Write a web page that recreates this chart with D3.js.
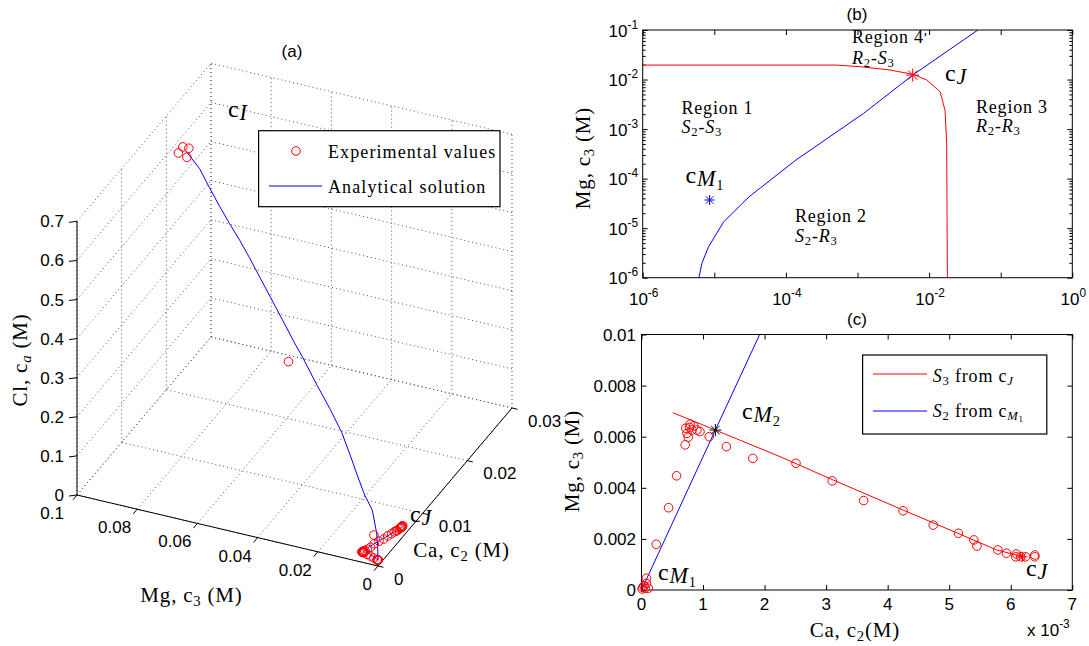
<!DOCTYPE html>
<html>
<head>
<meta charset="utf-8">
<script src="https://cdnjs.cloudflare.com/ajax/libs/d3/7.8.5/d3.min.js"></script>
<style>
body { margin: 0; background: #fff; }
svg text { font-family: "Liberation Sans", Arial, sans-serif; fill: #000; }
svg text.serif { font-family: "Liberation Serif", "Times New Roman", serif; letter-spacing: 0.8px; }
.grid3d line { stroke: #555; stroke-width: 1; stroke-dasharray: 1,3; }
.tk line { stroke: #000; stroke-width: 1; }
.tk path { display: none; }
</style>
</head>
<body>
<svg id="chart" width="1089" height="646"></svg>
<script>
// ---------- data ----------
// panel (a): analytical path in (Mg, Ca, Cl), M
var a_curve_mg = [0.0907, 0.0844, 0.0796, 0.0749, 0.0701, 0.0654, 0.0607, 0.0569, 0.0507, 0.0450, 0.0389, 0.0358, 0.0294, 0.0227, 0.0171, 0.0133, 0.0095, 0.0062, 0.0028, 0.0006, 0.0001, 0.0000,
	0.0063, 0.00626, 0.00522, 0.00431, 0.00313, 0.00222, 0.00157, 0.0013];
var a_curve_ca = [0.0181, 0.0169, 0.0159, 0.0150, 0.0140, 0.0131, 0.0121, 0.0114, 0.0101, 0.0090, 0.0078, 0.0072, 0.0059, 0.0045, 0.0034, 0.0027, 0.0019, 0.0012, 0.0006, 0.0001, 0.0000, 0.0000,
	0.0012, 0.0012, 0.00225, 0.00311, 0.00425, 0.00514, 0.00577, 0.0062];
var a_curve_cl = [0.653, 0.636, 0.609, 0.582, 0.560, 0.538, 0.516, 0.492, 0.459, 0.425, 0.389, 0.373, 0.335, 0.301, 0.265, 0.224, 0.185, 0.154, 0.130, 0.082, 0.049, 0.015,
	0.014, 0.014, 0.014, 0.014, 0.014, 0.014, 0.014, 0.014];

// panel (a): experimental values
var a_exp_mg = [0.0923, 0.0894, 0.0942, 0.0902, 0.0422, 0.0015,
	0.00649, 0.00633, 0.00626, 0.00613, 0.00626, 0.0062, 0.00598, 0.006, 0.00568, 0.00561, 0.00515, 0.00447, 0.00322, 0.00179, 0.00046, 0.00026, 0.00007, 0.00007, 0.00004,
	0.00496, 0.00427, 0.0035, 0.0031, 0.00254, 0.00222, 0.00196, 0.00172, 0.00157, 0.00144, 0.00141, 0.0013, 0.0013, 0.0013, 0.00137, 0.0013];
var a_exp_ca = [0.0185, 0.0179, 0.0188, 0.0180, 0.0084, 0.0001,
	0.00079, 0.00072, 0.00082, 0.00074, 0.0009, 0.00095, 0.00076, 0.0011, 0.00071, 0.00138, 0.00181, 0.00057, 0.00044, 0.00024, 0.00008, 0.00008, 0.00006, 0.00011, 0.00001,
	0.00251, 0.0031, 0.00361, 0.00425, 0.00474, 0.00515, 0.0054, 0.00545, 0.00579, 0.00593, 0.00609, 0.00608, 0.00616, 0.00624, 0.00639, 0.00639];
var a_exp_cl = [0.655, 0.665, 0.632, 0.639, 0.333, 0.075,
	0.014, 0.014, 0.014, 0.014, 0.014, 0.014, 0.014, 0.014, 0.014, 0.014, 0.014, 0.014, 0.014, 0.014, 0.014, 0.014, 0.014, 0.014, 0.014,
	0.014, 0.014, 0.014, 0.014, 0.014, 0.014, 0.014, 0.014, 0.014, 0.014, 0.014, 0.014, 0.014, 0.014, 0.014, 0.014];

var a_mg_ticks = [0, 0.02, 0.04, 0.06, 0.08, 0.1];
var a_mg_labels = ["0", "0.02", "0.04", "0.06", "0.08", "0.1"];
var a_ca_ticks = [0, 0.01, 0.02, 0.03];
var a_ca_labels = ["0", "0.01", "0.02", "0.03"];
var a_cl_ticks = [0, 0.1, 0.2, 0.3, 0.4, 0.5, 0.6, 0.7];
var a_cl_labels = ["0", "0.1", "0.2", "0.3", "0.4", "0.5", "0.6", "0.7"];

// panel (b): region boundaries, [Ca, Mg]
var b_s2_line = [[6.1e-6, 1e-6], [6.7e-6, 1.94e-6], [8.3e-6, 4.2e-6], [1.35e-5, 1.34e-5], [3.05e-5, 4.28e-5], [1.38e-4, 2.37e-4], [1.22e-3, 2.08e-3], [5.9e-3, 1.23e-2], [4.8e-2, 0.1]];
var b_s3_line = [[1e-6, 0.0196], [5.0e-4, 0.0196], [1.08e-3, 0.0182], [2.84e-3, 0.0156], [6.0e-3, 0.0127], [9.25e-3, 0.0098], [1.42e-2, 5.7e-3], [1.67e-2, 2.4e-3], [1.76e-2, 5.1e-4], [1.80e-2, 1e-6]];
var b_cJ = [5.9e-3, 1.23e-2];
var b_cM1 = [8.6e-6, 3.7e-5];
var b_x_exps = [-6, -4, -2, 0];
var b_y_exps = [-6, -5, -4, -3, -2, -1];

// panel (c): Ca vs Mg, M
var c_exp_ca = [0.79e-3, 0.72e-3, 0.82e-3, 0.74e-3, 0.90e-3, 0.95e-3, 0.76e-3, 1.10e-3, 0.71e-3, 1.38e-3, 1.81e-3, 0.57e-3, 0.44e-3, 0.24e-3, 0.08e-3, 0.08e-3, 0.06e-3, 0.11e-3, 0.01e-3, 0.04e-3, 0.85e-3, 0.78e-3, 0.02e-3,
	2.51e-3, 3.10e-3, 3.61e-3, 4.25e-3, 4.74e-3, 5.15e-3, 5.40e-3, 5.45e-3, 5.79e-3, 5.93e-3, 6.09e-3, 6.08e-3, 6.16e-3, 6.24e-3, 6.39e-3, 6.39e-3];
var c_exp_mg = [6.49e-3, 6.33e-3, 6.26e-3, 6.13e-3, 6.26e-3, 6.20e-3, 5.98e-3, 6.00e-3, 5.68e-3, 5.61e-3, 5.15e-3, 4.47e-3, 3.22e-3, 1.79e-3, 0.46e-3, 0.26e-3, 0.07e-3, 0.07e-3, 0.04e-3, 0.16e-3, 6.42e-3, 6.36e-3, 0.10e-3,
	4.96e-3, 4.27e-3, 3.50e-3, 3.10e-3, 2.54e-3, 2.22e-3, 1.96e-3, 1.72e-3, 1.57e-3, 1.44e-3, 1.41e-3, 1.30e-3, 1.30e-3, 1.30e-3, 1.37e-3, 1.30e-3];
var c_s3_line = [[0.51e-3, 6.94e-3], [1.2e-3, 6.26e-3], [2.25e-3, 5.22e-3], [3.11e-3, 4.31e-3], [4.25e-3, 3.13e-3], [5.14e-3, 2.22e-3], [5.77e-3, 1.57e-3], [6.2e-3, 1.30e-3]];
var c_s2_line = [[0, 0], [0.6e-3, 3.13e-3], [1.2e-3, 6.26e-3], [1.92e-3, 10.0e-3]];
var c_cM2 = [1.2e-3, 6.26e-3];
var c_cJ = [6.19e-3, 1.30e-3];
var c_x_ticks = [0, 1e-3, 2e-3, 3e-3, 4e-3, 5e-3, 6e-3, 7e-3];
var c_x_labels = ["0", "1", "2", "3", "4", "5", "6", "7"];
var c_y_ticks = [0, 0.002, 0.004, 0.006, 0.008, 0.01];
var c_y_labels = ["0", "0.002", "0.004", "0.006", "0.008", "0.01"];

var svg = d3.select("#chart");

// text with sub/superscript parts
function addText(g, x, y, parts, o) {
	o = o || {};
	var size = o.size || 18;
	var t = g.append("text")
		.attr("x", x).attr("y", y)
		.attr("class", o.cls == null ? "serif" : o.cls)
		.attr("font-size", size)
		.attr("text-anchor", o.anchor || "start");
	if (o.rotate) t.attr("transform", "rotate(-90," + x + "," + y + ")");
	var shift = 0;
	parts.forEach(function(p) {
		var d = p.dy || 0;
		var ts = t.append("tspan").text(p.t).attr("dy", d - shift);
		if (p.s) ts.attr("font-size", size * p.s);
		if (p.i) ts.attr("font-style", "italic");
		if (p.f) ts.attr("font-family", p.f);
		shift = d;
	});
	return t;
}

function star(g, x, y, r, col) {
	var d = r * 0.72;
	var p = "M" + (x - r) + "," + y + "H" + (x + r) + "M" + x + "," + (y - r) + "V" + (y + r) +
		"M" + (x - d) + "," + (y - d) + "L" + (x + d) + "," + (y + d) +
		"M" + (x - d) + "," + (y + d) + "L" + (x + d) + "," + (y - d);
	g.append("path").attr("d", p).attr("stroke", col).attr("stroke-width", 1).attr("fill", "none");
}

// ---------- panel (a): 3-D view ----------
var ga = svg.append("g");
var origin = [378, 566];
var mgX = d3.scaleLinear().domain([0, 0.1]).range([0, -301]);
var mgY = d3.scaleLinear().domain([0, 0.1]).range([0, -71]);
var caX = d3.scaleLinear().domain([0, 0.03]).range([0, 134]);
var caY = d3.scaleLinear().domain([0, 0.03]).range([0, -158]);
var clY = d3.scaleLinear().domain([0, 0.7]).range([0, -273.7]);

function proj(mg, ca, cl) {
	return [origin[0] + mgX(mg) + caX(ca), origin[1] + mgY(mg) + caY(ca) + clY(cl)];
}

var grid = ga.append("g").attr("class", "grid3d");
function seg(g, p, q) {
	return g.append("line").attr("x1", p[0]).attr("y1", p[1]).attr("x2", q[0]).attr("y2", q[1]);
}
a_mg_ticks.forEach(function(m) {
	seg(grid, proj(m, 0, 0), proj(m, 0.03, 0));
	seg(grid, proj(m, 0.03, 0), proj(m, 0.03, 0.7));
});
a_ca_ticks.forEach(function(c) {
	seg(grid, proj(0, c, 0), proj(0.1, c, 0));
	seg(grid, proj(0.1, c, 0), proj(0.1, c, 0.7));
});
a_cl_ticks.forEach(function(l) {
	seg(grid, proj(0, 0.03, l), proj(0.1, 0.03, l));
	seg(grid, proj(0.1, 0, l), proj(0.1, 0.03, l));
});

var axA = ga.append("g").attr("stroke", "#000").attr("stroke-width", 1);
seg(axA, proj(0, 0, 0), proj(0.1, 0, 0));
seg(axA, proj(0, 0, 0), proj(0, 0.03, 0));
seg(axA, proj(0.1, 0, 0), proj(0.1, 0, 0.7));

a_mg_ticks.forEach(function(m, i) {
	var p = proj(m, 0, 0);
	seg(axA, p, proj(m, -0.0009, 0));
	ga.append("text").attr("x", p[0] - (m == 0.1 ? 13 : 6)).attr("y", p[1] + 24).attr("font-size", 17)
		.attr("text-anchor", "end").text(a_mg_labels[i]);
});
a_ca_ticks.forEach(function(c, i) {
	var p = proj(0, c, 0);
	seg(axA, p, proj(-0.0018, c, 0));
	ga.append("text").attr("x", p[0] + 16).attr("y", p[1] + 18.5).attr("font-size", 17)
		.text(a_ca_labels[i]);
});
a_cl_ticks.forEach(function(l, i) {
	var p = proj(0.1, 0, l);
	seg(axA, p, [p[0] - 8, p[1] + 1]);
	ga.append("text").attr("x", p[0] - 13).attr("y", p[1] + 6).attr("font-size", 17)
		.attr("text-anchor", "end").text(a_cl_labels[i]);
});

var line3d = d3.line().x(function(d) { return d[0]; }).y(function(d) { return d[1]; });
var a_pts = a_curve_mg.map(function(m, i) { return proj(m, a_curve_ca[i], a_curve_cl[i]); });
ga.append("path").attr("d", line3d(a_pts)).attr("fill", "none").attr("stroke", "#0000ff").attr("stroke-width", 1);

ga.selectAll(".expa").data(a_exp_mg).enter().append("circle")
	.attr("cx", function(m, i) { return proj(m, a_exp_ca[i], a_exp_cl[i])[0]; })
	.attr("cy", function(m, i) { return proj(m, a_exp_ca[i], a_exp_cl[i])[1]; })
	.attr("r", 4.3).attr("fill", "none").attr("stroke", "#ff0000").attr("stroke-width", 1);

ga.append("text").attr("x", 292).attr("y", 57).attr("font-size", 17).attr("text-anchor", "middle").text("(a)");
addText(ga, 191.5, 601.7, [{t: "Mg, c"}, {t: "3", s: 0.7, dy: 4}, {t: " (M)"}], {size: 21, anchor: "middle"});
addText(ga, 413.3, 556.7, [{t: "Ca, c"}, {t: "2", s: 0.7, dy: 4}, {t: " (M)"}], {size: 21});
addText(ga, 27, 360, [{t: "Cl, c"}, {t: "a", s: 0.7, dy: 4, i: true}, {t: " (M)"}], {size: 21, anchor: "middle", rotate: true});
addText(ga, 228, 117, [{t: "c"}, {t: "I", i: true, s: 0.92, dy: 3}], {size: 24});
addText(ga, 410, 521.7, [{t: "c"}, {t: "J", i: true, s: 0.92, dy: 3}], {size: 24});

// legend (a)
var lgA = ga.append("g");
lgA.append("rect").attr("x", 258.6).attr("y", 130.7).attr("width", 241.4).attr("height", 76)
	.attr("fill", "#fff").attr("stroke", "#000").attr("stroke-width", 1.2);
lgA.append("circle").attr("cx", 296).attr("cy", 151).attr("r", 4.3).attr("fill", "none").attr("stroke", "#ff0000");
lgA.append("line").attr("x1", 269).attr("x2", 322).attr("y1", 186).attr("y2", 186).attr("stroke", "#0000ff");
addText(lgA, 328, 158, [{t: "Experimental values"}], {size: 18}).style("letter-spacing", "1.1px");
addText(lgA, 328, 193, [{t: "Analytical solution"}], {size: 18}).style("letter-spacing", "1.1px");

// ---------- panel (b): log-log regions ----------
var gb = svg.append("g");
var bx = d3.scaleLog().domain([1e-6, 1]).range([642.7, 1072.3]);
var by = d3.scaleLog().domain([1e-6, 1e-1]).range([277.7, 30]);
var lineB = d3.line().x(function(d) { return bx(d[0]); }).y(function(d) { return by(d[1]); });

svg.append("clipPath").attr("id", "clipb").append("rect")
	.attr("x", 642.7).attr("y", 30).attr("width", 429.6).attr("height", 247.7);

var xDec = d3.range(-6, 1).map(function(e) { return Math.pow(10, e); });
var yMinor = [];
d3.range(-6, -1).forEach(function(e) {
	for (var k = 2; k < 10; k++) yMinor.push(k * Math.pow(10, e));
});
var yDec = b_y_exps.map(function(e) { return Math.pow(10, e); });

gb.append("g").attr("class", "tk").attr("transform", "translate(0,277.7)").call(d3.axisBottom(bx).tickValues(xDec).tickSize(-5).tickFormat(""));
gb.append("g").attr("class", "tk").attr("transform", "translate(0,30)").call(d3.axisTop(bx).tickValues(xDec).tickSize(-5).tickFormat(""));
gb.append("g").attr("class", "tk").attr("transform", "translate(642.7,0)").call(d3.axisLeft(by).tickValues(yDec).tickSize(-5).tickFormat(""));
gb.append("g").attr("class", "tk").attr("transform", "translate(1072.3,0)").call(d3.axisRight(by).tickValues(yDec).tickSize(-5).tickFormat(""));
gb.append("g").attr("class", "tk").attr("transform", "translate(642.7,0)").call(d3.axisLeft(by).tickValues(yMinor).tickSize(-3).tickFormat(""));
gb.append("g").attr("class", "tk").attr("transform", "translate(1072.3,0)").call(d3.axisRight(by).tickValues(yMinor).tickSize(-3).tickFormat(""));

gb.append("rect").attr("x", 642.7).attr("y", 30).attr("width", 429.6).attr("height", 247.7)
	.attr("fill", "none").attr("stroke", "#000").attr("stroke-width", 1);

var gbc = gb.append("g").attr("clip-path", "url(#clipb)");
gbc.append("path").attr("d", lineB(b_s3_line)).attr("fill", "none").attr("stroke", "#ff0000");
gbc.append("path").attr("d", lineB(b_s2_line)).attr("fill", "none").attr("stroke", "#0000ff");
star(gb, bx(b_cJ[0]), by(b_cJ[1]), 6.5, "#ff0000");
star(gb, bx(b_cM1[0]), by(b_cM1[1]), 5, "#0000ff");

b_y_exps.forEach(function(e) {
	addText(gb, 638, by(Math.pow(10, e)) + 6.5, [{t: "10"}, {t: "-" + (-e), s: 0.7, dy: -8}], {cls: "", size: 17, anchor: "end"});
});
b_x_exps.forEach(function(e) {
	addText(gb, bx(Math.pow(10, e)) + 1, 305, [{t: "10"}, {t: e == 0 ? "0" : "-" + (-e), s: 0.7, dy: -8}], {cls: "", size: 17, anchor: "middle"});
});

gb.append("text").attr("x", 857).attr("y", 20).attr("font-size", 17).attr("text-anchor", "middle").text("(b)");
addText(gb, 590, 158, [{t: "Mg, c"}, {t: "3", s: 0.7, dy: 4}, {t: " (M)"}], {size: 21, anchor: "middle", rotate: true});

addText(gb, 852, 42.7, [{t: "Region 4"}, {t: "'", f: "Liberation Sans", s: 0.8}], {size: 18});
addText(gb, 852, 64, [{t: "R", i: true}, {t: "2", s: 0.7, dy: 3}, {t: "-"}, {t: "S", i: true}, {t: "3", s: 0.7, dy: 3}], {size: 18});
addText(gb, 681.5, 114, [{t: "Region 1"}], {size: 18});
addText(gb, 681.5, 133, [{t: "S", i: true}, {t: "2", s: 0.7, dy: 3}, {t: "-"}, {t: "S", i: true}, {t: "3", s: 0.7, dy: 3}], {size: 18});
addText(gb, 976, 112.7, [{t: "Region 3"}], {size: 18});
addText(gb, 976, 132, [{t: "R", i: true}, {t: "2", s: 0.7, dy: 3}, {t: "-"}, {t: "R", i: true}, {t: "3", s: 0.7, dy: 3}], {size: 18});
addText(gb, 795, 221.7, [{t: "Region 2"}], {size: 18});
addText(gb, 795, 242, [{t: "S", i: true}, {t: "2", s: 0.7, dy: 3}, {t: "-"}, {t: "R", i: true}, {t: "3", s: 0.7, dy: 3}], {size: 18});
addText(gb, 945, 80.7, [{t: "c"}, {t: "J", i: true, s: 0.92, dy: 3}], {size: 24});
addText(gb, 685.5, 183, [{t: "c"}, {t: "M", i: true, s: 0.92, dy: 3}, {t: "1", s: 0.6, dy: 7}], {size: 24});

// ---------- panel (c): linear Ca-Mg ----------
var gc = svg.append("g");
var cx = d3.scaleLinear().domain([0, 0.007]).range([641.5, 1072.3]);
var cy = d3.scaleLinear().domain([0, 0.01]).range([590, 334.5]);
var lineC = d3.line().x(function(d) { return cx(d[0]); }).y(function(d) { return cy(d[1]); });

svg.append("clipPath").attr("id", "clipc").append("rect")
	.attr("x", 641.5).attr("y", 334.5).attr("width", 430.8).attr("height", 255.5);

gc.append("g").attr("class", "tk").attr("transform", "translate(0,590)").call(d3.axisBottom(cx).tickValues(c_x_ticks).tickSize(-5).tickFormat(""));
gc.append("g").attr("class", "tk").attr("transform", "translate(0,334.5)").call(d3.axisTop(cx).tickValues(c_x_ticks).tickSize(-5).tickFormat(""));
gc.append("g").attr("class", "tk").attr("transform", "translate(641.5,0)").call(d3.axisLeft(cy).tickValues(c_y_ticks).tickSize(-5).tickFormat(""));
gc.append("g").attr("class", "tk").attr("transform", "translate(1072.3,0)").call(d3.axisRight(cy).tickValues(c_y_ticks).tickSize(-5).tickFormat(""));

gc.append("rect").attr("x", 641.5).attr("y", 334.5).attr("width", 430.8).attr("height", 255.5)
	.attr("fill", "none").attr("stroke", "#000").attr("stroke-width", 1);

var gcc = gc.append("g").attr("clip-path", "url(#clipc)");
gcc.append("path").attr("d", lineC(c_s2_line)).attr("fill", "none").attr("stroke", "#0000ff");
gcc.append("path").attr("d", lineC(c_s3_line)).attr("fill", "none").attr("stroke", "#ff0000");
gc.selectAll(".expc").data(c_exp_ca).enter().append("circle")
	.attr("cx", function(d) { return cx(d); })
	.attr("cy", function(d, i) { return cy(c_exp_mg[i]); })
	.attr("r", 4.3).attr("fill", "none").attr("stroke", "#ff0000").attr("stroke-width", 1);
star(gc, cx(c_cM2[0]), cy(c_cM2[1]), 6, "#000");
star(gc, cx(c_cJ[0]), cy(c_cJ[1]), 5, "#ff0000");

c_x_ticks.forEach(function(v, i) {
	gc.append("text").attr("x", cx(v)).attr("y", 610).attr("font-size", 17).attr("text-anchor", "middle").text(c_x_labels[i]);
});
c_y_ticks.forEach(function(v, i) {
	gc.append("text").attr("x", 636).attr("y", cy(v) + 6).attr("font-size", 17).attr("text-anchor", "end").text(c_y_labels[i]);
});
addText(gc, 1027, 636, [{t: "x 10"}, {t: "-3", s: 0.7, dy: -8}], {cls: "", size: 17});

gc.append("text").attr("x", 857).attr("y", 325).attr("font-size", 17).attr("text-anchor", "middle").text("(c)");
addText(gc, 579, 461, [{t: "Mg, c"}, {t: "3", s: 0.7, dy: 4}, {t: " (M)"}], {size: 21, anchor: "middle", rotate: true});
addText(gc, 809.7, 636.7, [{t: "Ca, c"}, {t: "2", s: 0.7, dy: 4}, {t: "(M)"}], {size: 21});
addText(gc, 742, 419, [{t: "c"}, {t: "M", i: true, s: 0.92, dy: 3}, {t: "2", s: 0.6, dy: 7}], {size: 24});
addText(gc, 658, 580, [{t: "c"}, {t: "M", i: true, s: 0.92, dy: 3}, {t: "1", s: 0.6, dy: 7}], {size: 24});
addText(gc, 1026, 576, [{t: "c"}, {t: "J", i: true, s: 0.92, dy: 3}], {size: 24});

// legend (c)
var lgC = gc.append("g");
lgC.append("rect").attr("x", 862.6).attr("y", 355).attr("width", 184.2).attr("height", 79)
	.attr("fill", "#fff").attr("stroke", "#000").attr("stroke-width", 1.2);
lgC.append("line").attr("x1", 873).attr("x2", 927).attr("y1", 374).attr("y2", 374).attr("stroke", "#ff0000");
lgC.append("line").attr("x1", 873).attr("x2", 927).attr("y1", 411).attr("y2", 411).attr("stroke", "#0000ff");
addText(lgC, 932.8, 381.7, [{t: "S", i: true}, {t: "3", s: 0.7, dy: 3}, {t: " from c"}, {t: "J", i: true, s: 0.7, dy: 3}], {size: 18});
addText(lgC, 932.8, 417, [{t: "S", i: true}, {t: "2", s: 0.7, dy: 3}, {t: " from c"}, {t: "M", i: true, s: 0.7, dy: 3}, {t: "1", s: 0.5, dy: 5}], {size: 18});
</script>
</body>
</html>
